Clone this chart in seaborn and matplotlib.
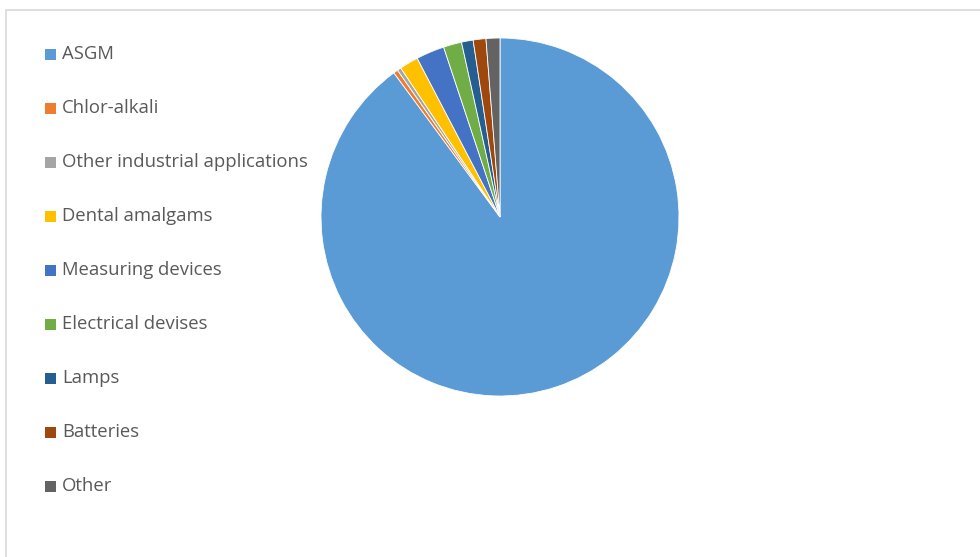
import matplotlib
matplotlib.use("Agg")
import matplotlib.pyplot as plt
from matplotlib.patches import Rectangle
import seaborn as sns

categories = ["ASGM", "Chlor-alkali", "Other industrial applications", "Dental amalgams",
              "Measuring devices", "Electrical devises", "Lamps", "Batteries", "Other"]
values = [89.9, 0.4, 0.35, 1.7, 2.55, 1.65, 1.05, 1.15, 1.25]
colors = ["#5B9BD5", "#ED7D31", "#A5A5A5", "#FFC000", "#4472C4",
          "#70AD47", "#255E91", "#9E480E", "#636363"]

sns.set_theme(style="white")
plt.rcParams["font.family"] = ["Open Sans", "DejaVu Sans"]
palette = sns.color_palette(colors)

W, H = 980, 557
fig = plt.figure(figsize=(W / 100, H / 100), dpi=100)
fig.patch.set_facecolor("white")

# chart border (cropped at right/bottom)
fig.patches.append(Rectangle((6 / W, -0.05), 1.2, 1 - 10 / H + 0.05, transform=fig.transFigure,
                             fill=False, edgecolor="#D9D9D9", linewidth=1.2))

cx, cy, r = 500, 217, 179
ax = fig.add_axes([(cx - r) / W, 1 - (cy + r) / H, 2 * r / W, 2 * r / H])
ax.pie(values, colors=palette, startangle=90, counterclock=False, radius=1.0,
       wedgeprops=dict(edgecolor="white", linewidth=0.6))
ax.set_xlim(-1, 1)
ax.set_ylim(-1, 1)
ax.set_aspect("equal")
ax.axis("off")

# legend
y0, dy = 54, 54
for i, (lab, col) in enumerate(zip(categories, palette)):
    y = y0 + i * dy
    fig.patches.append(Rectangle((45 / W, 1 - (y + 6) / H), 11 / W, 11 / H,
                                 transform=fig.transFigure, facecolor=col, edgecolor="none"))
    fig.text(62 / W, 1 - y / H, lab, fontsize=13.3, color="#595959", va="center", ha="left")

fig.savefig("out.png", dpi=100)
